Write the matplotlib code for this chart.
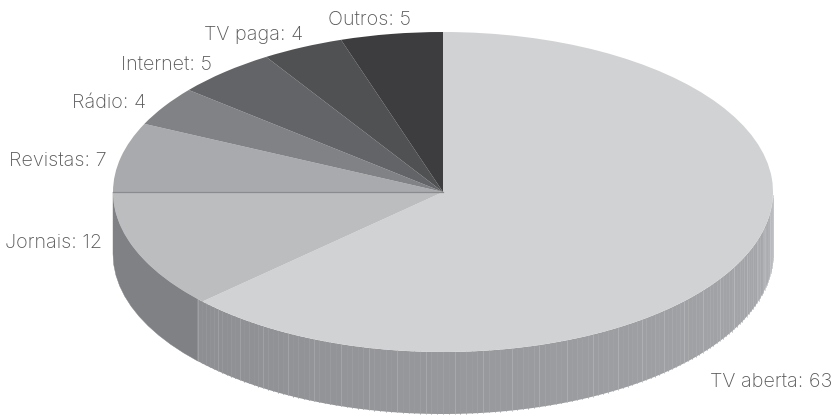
import numpy as np
import matplotlib
matplotlib.use("Agg")
import matplotlib.pyplot as plt

categories = ["TV aberta", "Jornais", "Revistas", "Rádio", "Internet", "TV paga", "Outros"]
values = [63, 12, 7, 4, 5, 4, 5]
colors = ["#d1d2d4", "#bcbdbf", "#a9aaad", "#808285", "#636467", "#505153", "#3d3d3f"]

W, H = 835, 416
CX, CY, RX, RY, DEPTH = 443, 192, 330, 160, 62

plt.rcParams["font.family"] = ["Inter", "Lato", "DejaVu Sans"]
fig = plt.figure(figsize=(W / 100, H / 100), dpi=100, facecolor="white")
ax = fig.add_axes([0, 0, 1, 1])

wedges, _ = ax.pie(values, colors=colors, startangle=90, counterclock=False,
                   radius=1, wedgeprops={"linewidth": 0})
ax.set_aspect("auto")
ax.set_xlim(-CX / RX, (W - CX) / RX)
ax.set_ylim((CY - H) / RY, CY / RY)
ax.axis("off")
for w in wedges:
    w.set_zorder(5)

d = DEPTH / RY
total = sum(values)
boundaries = 90 - np.cumsum([0] + values) / total * 360


def wall(a0, a1, color, z=2, **kw):
    t = np.radians(np.linspace(a0, a1, 12))
    x = np.cos(t)
    y = np.sin(t)
    ax.fill(np.r_[x, x[::-1]], np.r_[y, y[::-1] - d], facecolor=color, zorder=z, **kw)


start = boundaries[1] - 1.2
wall(start, -180, "#808184", linewidth=0.3, edgecolor="#808184")

left_c = np.array([0x8e, 0x8f, 0x92]) / 255
right_c = np.array([0xa8, 0xa9, 0xac]) / 255
strip = 1.0
angs = np.arange(start, 0, strip)
for i, a in enumerate(angs):
    f = (a - start) / (0 - start)
    c = left_c + (right_c - left_c) * f
    if a > -16:
        c = c + (np.array([0xbc, 0xbd, 0xbf]) / 255 - c) * ((a + 16) / 16) ** 2
    c = tuple(np.clip(c, 0, 1))
    wall(a, min(a + strip + 0.15, 0), c, linewidth=0)
    t = np.radians(a)
    boost = 0.10 if i % 5 == 0 else (0.045 if i % 2 == 0 else 0.02)
    light = tuple(np.clip(np.array(c) + boost, 0, 1))
    ax.plot([np.cos(t)] * 2, [np.sin(t), np.sin(t) - d], color=light, lw=0.45, zorder=3)

t = np.radians(boundaries[2])
ax.plot([0, np.cos(t)], [0, np.sin(t)], color="#8a8b8e", lw=0.9, zorder=6)

label_x = [710, 102, 107, 146, 212, 303, 411]
label_y = [382, 243, 161, 103, 65, 35, 20]
label_ha = ["left", "right", "right", "right", "right", "right", "right"]
for n, v, x, y, ha in zip(categories, values, label_x, label_y, label_ha):
    fig.text(x / W, 1 - y / H, f"{n}: {v}", ha=ha, va="center",
             fontsize=14.3, color="#58585a", fontweight="light")

fig.savefig("out.png", dpi=100, facecolor="white")
